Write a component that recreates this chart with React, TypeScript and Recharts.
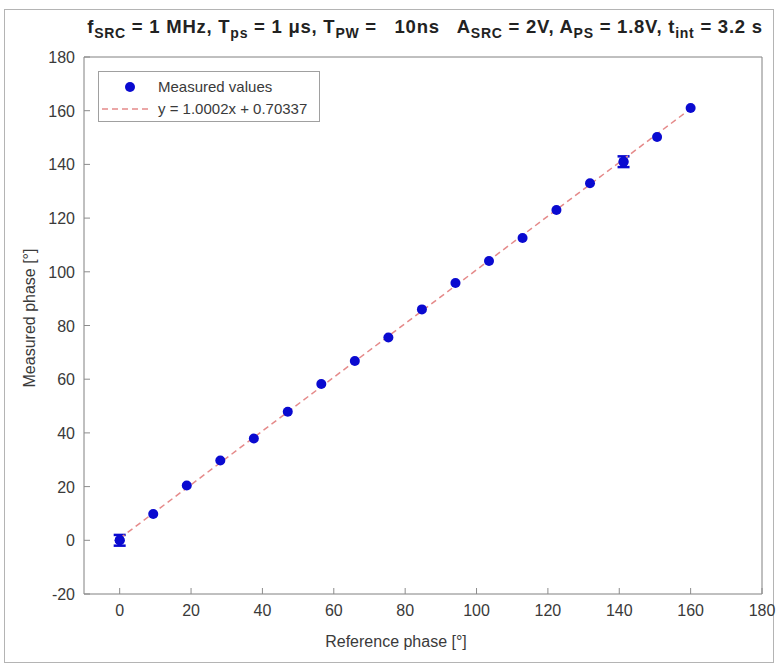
import React from 'react';
import { ComposedChart, Scatter, XAxis, YAxis, CartesianGrid, ErrorBar, ReferenceArea, Legend } from 'recharts';

// reference phase [deg] vs measured phase [deg]
const refPhase = [0, 9.4, 18.8, 28.2, 37.6, 47.1, 56.5, 65.9, 75.3, 84.7, 94.1, 103.5, 112.9, 122.4, 131.8, 141.2, 150.6, 160.0];
const measPhase = [0.0, 9.8, 20.4, 29.7, 37.9, 47.9, 58.2, 66.8, 75.5, 86.0, 95.8, 104.0, 112.6, 123.0, 133.0, 141.0, 150.2, 161.0];
// only two points show a visible error bar
const measErr = [2, 0, 0, 0, 0, 0, 0, 0, 0, 0, 0, 0, 0, 0, 0, 2, 0, 0];

// linear fit end points: y = 1.0002x + 0.70337
const fitX = [0, 160];
const fitY = [0.70, 160.74];

const xTicks = [0, 20, 40, 60, 80, 100, 120, 140, 160, 180];
const yTicks = [-20, 0, 20, 40, 60, 80, 100, 120, 140, 160, 180];

const points = refPhase.map((x, i) => ({ x, y: measPhase[i], err: measErr[i] }));
const errPoints = points.filter((p) => p.err > 0);
const fitPoints = fitX.map((x, i) => ({ x, y: fitY[i] }));

const BLUE = '#0a0ad0';
const FIT = '#e58a8a';
const AXIS = '#8c8c8c';
const TEXT = '#3a3a3a';
const FONT = '"Liberation Sans", Arial, sans-serif';

const BottomTick = ({ x, y, payload }: any) => (
  <g>
    <line x1={x} y1={y} x2={x} y2={y - 6} stroke={AXIS} />
    <text x={x} y={y + 22} textAnchor="middle" fontSize={16} fill={TEXT} fontFamily={FONT}>
      {payload.value}
    </text>
  </g>
);

const TopTick = ({ x, y }: any) => <line x1={x} y1={y} x2={x} y2={y + 6} stroke={AXIS} />;

const LeftTick = ({ x, y, payload }: any) => (
  <g>
    <line x1={x} y1={y} x2={x + 6} y2={y} stroke={AXIS} />
    <text x={x - 9} y={y + 6} textAnchor="end" fontSize={16} fill={TEXT} fontFamily={FONT}>
      {payload.value}
    </text>
  </g>
);

const RightTick = ({ x, y }: any) => <line x1={x} y1={y} x2={x - 6} y2={y} stroke={AXIS} />;

const Dot = (p: any) => <circle cx={p.cx} cy={p.cy} r={5} fill={BLUE} />;

const FitLegend = () => (
  <div style={{ width: 222, height: 51, border: '1px solid #a0a0a0', background: '#fff', boxSizing: 'border-box' }}>
    <svg width={220} height={49}>
      <circle cx={31} cy={15} r={5} fill={BLUE} />
      <text x={59} y={20} fontSize={15} fill={TEXT} fontFamily={FONT}>Measured values</text>
      <line x1={3} y1={37} x2={49} y2={37} stroke={FIT} strokeWidth={1.5} strokeDasharray="6 4" />
      <text x={59} y={42} fontSize={15} fill={TEXT} fontFamily={FONT}>y = 1.0002x + 0.70337</text>
    </svg>
  </div>
);

const subStyle: React.CSSProperties = { fontSize: 14 };

export default function App() {
  return (
    <div style={{ position: 'absolute', left: 0, top: 0, width: 779, height: 666, background: '#fff', fontFamily: FONT }}>
      {/* figure frame */}
      <div style={{ position: 'absolute', left: 4, top: 9, width: 768, height: 652, border: '1px solid #b4b4b4' }} />
      <div
        style={{
          position: 'absolute',
          left: 40,
          width: 770,
          top: 16,
          textAlign: 'center',
          fontWeight: 'bold',
          fontSize: 18.5,
          color: '#222',
          whiteSpace: 'pre',
          letterSpacing: 0.75,
        }}
      >
        f<sub style={subStyle}>SRC</sub> = 1 MHz, T<sub style={subStyle}>ps</sub> = 1 μs, T<sub style={subStyle}>PW</sub> =   10ns   A<sub style={subStyle}>SRC</sub> = 2V, A<sub style={subStyle}>PS</sub> = 1.8V, t<sub style={subStyle}>int</sub> = 3.2 s
      </div>
      <ComposedChart width={779} height={666} margin={{ top: 57, right: 17, bottom: 0, left: 0 }} style={{ position: 'absolute', left: 0, top: 0 }}>
        <CartesianGrid stroke="#e6e6e6" />
        <XAxis
          xAxisId="b"
          type="number"
          dataKey="x"
          domain={[-10, 180]}
          ticks={xTicks}
          height={72}
          tickSize={0}
          tickMargin={0}
          tickLine={false}
          axisLine={false}
          tick={<BottomTick />}
          interval={0}
          allowDataOverflow
        />
        <XAxis
          xAxisId="t"
          orientation="top"
          type="number"
          dataKey="x"
          domain={[-10, 180]}
          ticks={xTicks}
          height={0}
          tickSize={0}
          tickMargin={0}
          tickLine={false}
          axisLine={false}
          tick={<TopTick />}
          interval={0}
        />
        <YAxis
          yAxisId="l"
          type="number"
          dataKey="y"
          domain={[-20, 180]}
          ticks={yTicks}
          width={84}
          tickSize={0}
          tickMargin={0}
          tickLine={false}
          axisLine={false}
          tick={<LeftTick />}
          interval={0}
          allowDataOverflow
        />
        <YAxis
          yAxisId="r"
          orientation="right"
          type="number"
          dataKey="y"
          domain={[-20, 180]}
          ticks={yTicks}
          width={0}
          tickSize={0}
          tickMargin={0}
          tickLine={false}
          axisLine={false}
          tick={<RightTick />}
          interval={0}
        />
        <ReferenceArea xAxisId="b" yAxisId="l" x1={-10} x2={180} y1={-20} y2={180} fill="none" stroke={AXIS} strokeWidth={1} ifOverflow="visible" />
        <Scatter
          xAxisId="b"
          yAxisId="l"
          data={fitPoints}
          line={{ stroke: FIT, strokeWidth: 1.5, strokeDasharray: '6 4' }}
          shape={() => <g />}
          isAnimationActive={false}
        />
        <Scatter xAxisId="b" yAxisId="l" data={errPoints} shape={Dot} isAnimationActive={false}>
          <ErrorBar dataKey="err" direction="y" width={6} stroke={BLUE} strokeWidth={2.5} isAnimationActive={false} />
        </Scatter>
        <Scatter xAxisId="b" yAxisId="l" data={points} shape={Dot} isAnimationActive={false} />
        <Legend
          layout="vertical"
          align="center"
          verticalAlign="middle"
          content={<FitLegend />}
          wrapperStyle={{ position: 'absolute', left: 98, top: 71, width: 222, height: 51 }}
        />
      </ComposedChart>
      <div style={{ position: 'absolute', left: 0, width: 779, top: 633, textAlign: 'center', fontSize: 16, color: TEXT, pointerEvents: 'none' }}>
        <span style={{ position: 'absolute', left: 396, transform: 'translateX(-50%)', whiteSpace: 'nowrap' }}>Reference phase [°]</span>
      </div>
      <div
        style={{
          position: 'absolute',
          left: 30,
          top: 318,
          fontSize: 16,
          color: TEXT,
          whiteSpace: 'nowrap',
          transform: 'translate(-50%, -50%) rotate(-90deg)',
        }}
      >
        Measured phase [°]
      </div>
    </div>
  );
}
